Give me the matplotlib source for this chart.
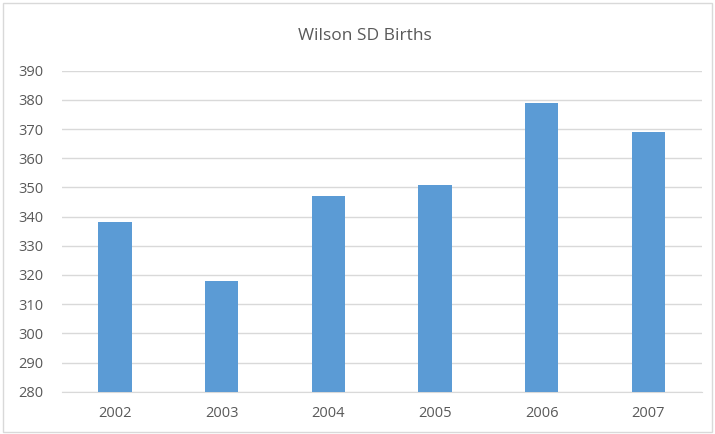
import matplotlib.pyplot as plt
from matplotlib.patches import Rectangle

# data
years = ['2002', '2003', '2004', '2005', '2006', '2007']
births = [338, 318, 347, 351, 379, 369]
y_ticks = list(range(280, 391, 10))

plt.rcParams['font.family'] = ['Open Sans', 'DejaVu Sans']

fig = plt.figure(figsize=(7.15, 4.34), dpi=100)
ax = fig.add_axes([0.0863, 0.0975, 0.895, 0.7396])

# light border around the whole chart, like the Excel chart area
fig.patches.append(Rectangle((0.004, 0.004), 0.992, 0.99, transform=fig.transFigure,
                             fill=False, edgecolor='#d9d9d9', linewidth=1))

ax.bar(range(len(years)), births, width=0.312, color='#5b9bd5', zorder=3)

ax.set_ylim(280, 390)
ax.set_yticks(y_ticks)
ax.set_xlim(-0.5, len(years) - 0.5)
ax.set_xticks(range(len(years)))
ax.set_xticklabels(years)
ax.grid(axis='y', color='#d9d9d9', linewidth=1, zorder=0)
for s in ['top', 'right', 'left']:
    ax.spines[s].set_visible(False)
ax.spines['bottom'].set_color('#d9d9d9')
ax.tick_params(axis='both', length=0, colors='#595959', labelsize=10.5)
ax.tick_params(axis='x', pad=10)
ax.tick_params(axis='y', pad=13)

fig.text(0.511, 0.918, 'Wilson SD Births', ha='center', va='center',
         fontsize=12.5, color='#595959')

fig.savefig('out.png', dpi=100)
